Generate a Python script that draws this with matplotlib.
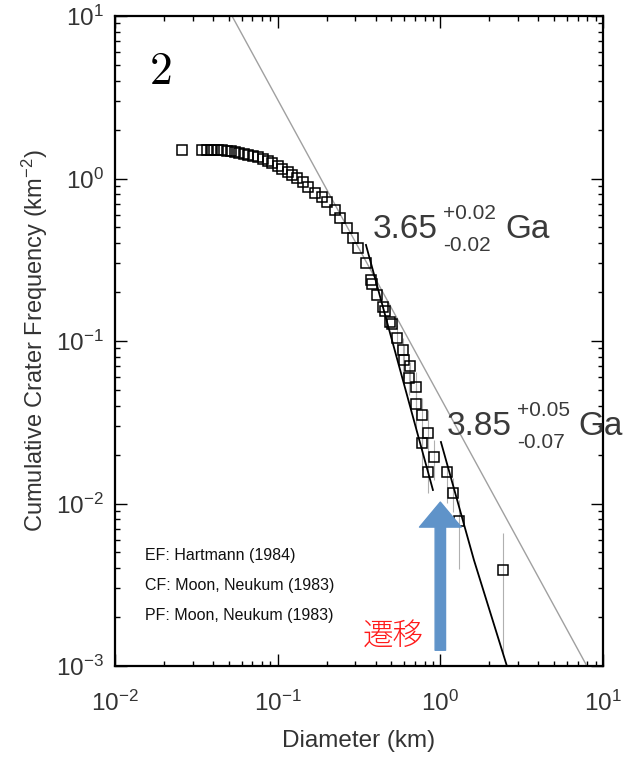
import numpy as np
import matplotlib.pyplot as plt

plt.rcParams['font.family'] = ['Liberation Sans', 'DejaVu Sans']
plt.rcParams['mathtext.fontset'] = 'custom'
plt.rcParams['mathtext.rm'] = 'Liberation Sans'
plt.rcParams['mathtext.it'] = 'Liberation Sans:italic'
plt.rcParams['mathtext.sf'] = 'Liberation Sans'

# Crater size-frequency data (diameter km, cumulative frequency km^-2)
diam = [0.0258, 0.0343, 0.0368, 0.0389, 0.0406, 0.0430, 0.0455, 0.0488, 0.0516,
        0.0546, 0.0578, 0.0621, 0.0657, 0.0705, 0.0757, 0.0812, 0.0872, 0.0923,
        0.1004, 0.1063, 0.1157, 0.1224, 0.1314, 0.1430, 0.1535, 0.1695, 0.1872,
        0.2009, 0.2250, 0.2415, 0.2667, 0.2903, 0.3117, 0.3490, 0.3746, 0.3799,
        0.4076, 0.4437, 0.4564, 0.4899, 0.5040, 0.5412, 0.5891, 0.5976, 0.6504,
        0.6412, 0.7079, 0.7079, 0.7706, 0.8391, 0.7706, 0.9135, 0.8391, 1.098,
        1.195, 1.301, 2.425]
freq = [1.497, 1.497, 1.497, 1.497, 1.497, 1.497, 1.497, 1.476, 1.476,
        1.456, 1.435, 1.415, 1.395, 1.375, 1.356, 1.318, 1.282, 1.246,
        1.194, 1.144, 1.096, 1.051, 1.007, 0.952, 0.887, 0.814, 0.770,
        0.717, 0.640, 0.571, 0.496, 0.430, 0.373, 0.302, 0.237, 0.224,
        0.192, 0.162, 0.153, 0.131, 0.127, 0.1043, 0.0881, 0.0764, 0.0702,
        0.0592, 0.0521, 0.0410, 0.0350, 0.0272, 0.0236, 0.0193, 0.0156, 0.0156,
        0.0116, 0.0078, 0.0039]

# error bars for the large craters (lower, upper)
err_diam = [0.5412, 0.5891, 0.5976, 0.6504, 0.6412, 0.7079, 0.7079, 0.7706,
            0.8391, 0.7706, 0.9135, 0.8391, 1.098, 1.195, 1.301, 2.425]
err_freq = [0.1043, 0.0881, 0.0764, 0.0702, 0.0592, 0.0521, 0.0410, 0.0350,
            0.0272, 0.0236, 0.0193, 0.0156, 0.0156, 0.0116, 0.0078, 0.0039]
err_lo = [0.0855, 0.0575, 0.0592, 0.0536, 0.0465, 0.0350, 0.0291, 0.0229,
          0.0185, 0.0160, 0.0139, 0.0116, 0.0101, 0.00887, 0.00395, 0.00115]
err_hi = [0.1254, 0.1043, 0.0945, 0.0743, 0.0700, 0.0645, 0.0514, 0.0446,
          0.0376, 0.0304, 0.0246, 0.0191, 0.0168, 0.0144, 0.0105, 0.00659]

# equilibrium line and model isochron fits
equil_d = [0.0524, 7.96]
equil_n = [10.0, 0.001]
fit1_d = [0.349, 0.9005]
fit1_n = [0.390, 0.01211]
fit2_d = [1.0085, 1.609, 2.566]
fit2_n = [0.0239, 0.00449, 0.001]

fig = plt.figure(figsize=(6.3, 7.57), dpi=100)
ax = fig.add_axes([115 / 630, 91 / 757, 488 / 630, 650 / 757])
ax.set_xscale('log')
ax.set_yscale('log')
ax.set_xlim(1e-2, 1e1)
ax.set_ylim(1e-3, 1e1)

ax.plot(equil_d, equil_n, color='#a0a0a0', lw=1.0)
ef = np.array(err_freq)
ax.errorbar(err_diam, ef, yerr=[ef - np.array(err_lo), np.array(err_hi) - ef],
            fmt='none', ecolor='#b0b0b0', elinewidth=0.8, capsize=0)
ax.plot(diam, freq, 's', ms=6.5, mfc='none', mec='black', mew=1.1)
ax.plot(fit1_d, fit1_n, color='black', lw=1.3)
ax.plot(fit2_d, fit2_n, color='black', lw=1.3)

for side in ax.spines.values():
    side.set_linewidth(1.6)
ax.tick_params(which='both', direction='in', top=True, right=True, width=1.0,
               labelsize=17.5, labelcolor='#333333')
ax.tick_params(which='major', length=8.5)
ax.tick_params(which='minor', length=3.8)
ax.tick_params(axis='x', pad=18)
ax.tick_params(axis='y', pad=8)

ax.set_xlabel('Diameter (km)', fontsize=17.5, color='#333333', labelpad=10)
ax.set_ylabel('Cumulative Crater Frequency (km$^{-2}$)', fontsize=17,
              color='#333333', labelpad=4)

# panel number
ax.text(0.092, 0.914, r'$2$', transform=ax.transAxes, fontsize=33,
        ha='center', va='center', math_fontfamily='cm')

# model ages
age_color = '#3a3a3a'
ax.text(0.5287, 0.6585, '3.65', transform=ax.transAxes, fontsize=24,
        color=age_color, va='baseline')
ax.text(0.6721, 0.688, '+0.02', transform=ax.transAxes, fontsize=15,
        color=age_color, va='baseline')
ax.text(0.6721, 0.638, '-0.02', transform=ax.transAxes, fontsize=15,
        color=age_color, va='baseline')
ax.text(0.7992, 0.6585, 'Ga', transform=ax.transAxes, fontsize=24,
        color=age_color, va='baseline')

ax.text(0.680, 0.3554, '3.85', transform=ax.transAxes, fontsize=24,
        color=age_color, va='baseline')
ax.text(0.8238, 0.385, '+0.05', transform=ax.transAxes, fontsize=15,
        color=age_color, va='baseline')
ax.text(0.8238, 0.335, '-0.07', transform=ax.transAxes, fontsize=15,
        color=age_color, va='baseline')
ax.text(0.9488, 0.3554, 'Ga', transform=ax.transAxes, fontsize=24,
        color=age_color, va='baseline')

# chronology / production function references
refs = ['EF: Hartmann (1984)', 'CF: Moon, Neukum (1983)', 'PF: Moon, Neukum (1983)']
for i, r in enumerate(refs):
    ax.text(0.0615, 0.163 - i * 0.046, r, transform=ax.transAxes,
            fontsize=11.5, color='#111111', va='baseline')

# transition arrow
ax.annotate('', xy=(1.0, 0.0102), xytext=(1.0, 0.00125),
            arrowprops=dict(arrowstyle='simple,head_length=18,head_width=30,tail_width=7.5',
                            mutation_scale=1, color='#5f93c9', shrinkA=0, shrinkB=0))
ax.text(0.508, 0.032, '遷移', transform=ax.transAxes, fontsize=22,
        color='#ff1a1a', va='baseline', fontweight='light',
        family=['Noto Sans CJK JP', 'DejaVu Sans'])

fig.savefig('out.png', dpi=100)
